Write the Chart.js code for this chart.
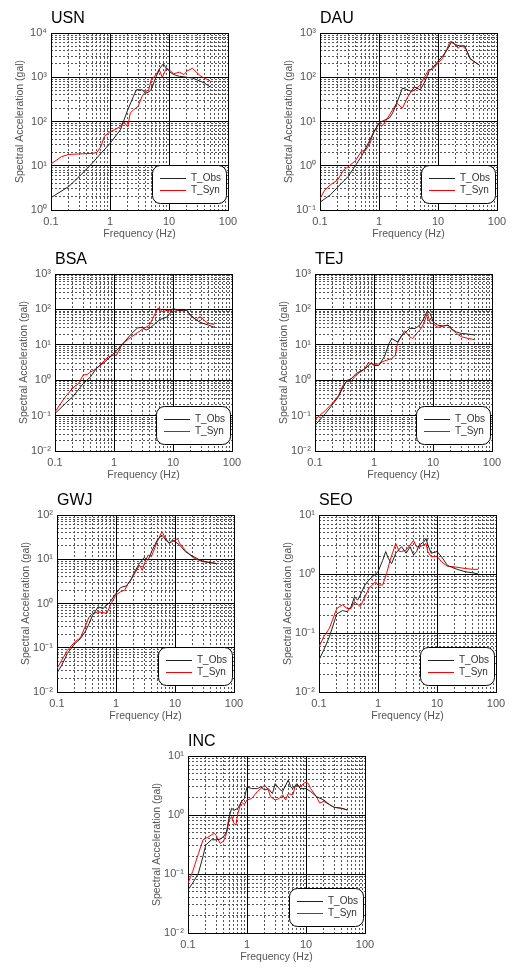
<!DOCTYPE html>
<html>
<head>
<meta charset="utf-8">
<script src="https://cdn.jsdelivr.net/npm/chart.js@4"></script>
<style>
body { margin: 0; background: #fff; }
canvas { position: absolute; }
</style>
</head>
<body>
<script>
// spectral acceleration (gal), frequency in Hz
const USN_OBS_F = [0.1,0.2,0.3,0.5,0.7,1,1.5,2,2.5,2.8,3.5,4,4.5,5,6,7,8,9,10,12,15,20,25,30,40,50];
const USN_OBS   = [1.9,3.4,5.7,11.4,19,32,65,183,370,520,520,440,460,530,1000,1600,2000,1600,1360,1150,1050,1000,960,870,740,600];
const USN_SYN_F = [0.1,0.15,0.2,0.3,0.5,0.6,0.7,0.8,1,1.2,1.5,1.7,2,2.2,2.5,3,3.5,4,4.5,5,6,6.8,7.7,9,10,12,15,18,20,25,30,35,40,50];
const USN_SYN   = [11,16,18,18.5,19,20,27,46,59,65,77,100,75,155,183,220,370,480,500,880,1140,1500,1000,1600,1480,1200,1300,1150,1370,1600,1250,1050,950,830];

const DAU_OBS_F = [0.1,0.15,0.2,0.3,0.5,0.7,0.8,1,1.2,1.5,1.7,2,2.5,3,3.5,4,5,6,7,8,10,12,15,17,20,25,28,30,35,40,50];
const DAU_OBS   = [0.15,0.22,0.33,0.57,1.6,3.8,5.5,9.2,10.5,12,15.5,26,57,52,48,60,52,80,135,160,230,300,460,640,540,500,520,430,260,230,190];
const DAU_SYN_F = [0.1,0.12,0.15,0.2,0.25,0.3,0.4,0.5,0.6,0.7,0.8,1,1.1,1.2,1.5,2,2.5,3,3.5,4,5,6,7,8,10,12,14,16,20,22,25,30,35,40,50];
const DAU_SYN   = [0.18,0.28,0.37,0.48,0.8,0.95,1.3,2.1,2.3,3.2,5.5,9,7.7,8.8,14,26,20,34,48,50,68,105,150,150,210,270,420,640,540,450,540,420,270,230,190];

const BSA_OBS_F = [0.1,0.15,0.2,0.3,0.4,0.5,0.7,1,1.5,2,2.5,3,3.5,4,5,6,7,8,9,10,12,15,17,20,25,30,40,50];
const BSA_OBS   = [0.114,0.22,0.34,0.8,1.24,2.14,3.3,5.7,12,21,30,31,26,29,40,52,56,62,80,107,95,95,93,69,50,42,36,31];
const BSA_SYN_F = [0.1,0.12,0.15,0.2,0.25,0.3,0.35,0.4,0.5,0.7,0.8,1,1.1,1.3,1.5,2,2.5,3,4,5,5.5,6,6.5,7,8,10,12,15,17,20,25,28,30,35,40,50];
const BSA_SYN   = [0.126,0.2,0.34,0.6,0.8,1.4,1.45,1.7,2.1,3.7,4.6,5.1,5.1,8.7,12,17,22,27,36,77,107,107,85,88,95,85,95,91,100,64,50,62,60,46,40,38];

const TEJ_OBS_F = [0.1,0.15,0.2,0.25,0.3,0.35,0.4,0.5,0.7,0.9,1,1.2,1.5,1.8,2,2.5,3,3.5,4,5,6,7,8,9,10,12,15,18,20,25,30,40,50];
const TEJ_OBS   = [0.053,0.114,0.21,0.34,0.65,1.0,1.05,1.55,2.1,3.0,2.6,2.6,4.6,11,15,12,19,23,29,29,36,56,91,77,45,36,34,36,29,23,21,20,19];
const TEJ_SYN_F = [0.1,0.15,0.2,0.25,0.3,0.35,0.4,0.5,0.7,0.8,1,1.2,1.5,2,2.3,2.5,3,3.3,4,4.5,5,6,7,8,9,10,12,15,18,20,25,30,40,50];
const TEJ_SYN   = [0.077,0.14,0.23,0.37,0.72,0.95,0.9,1.4,2.1,3.1,2.8,2.9,3.5,4.1,5.1,11,19,25,17,15,19,26,40,77,40,40,31,34,36,29,21,17,15,14];

const GWJ_OBS_F = [0.1,0.12,0.15,0.2,0.25,0.3,0.35,0.4,0.5,0.6,0.7,0.8,1,1.2,1.5,1.8,2,2.5,3,3.5,4,5,6,7,8,9,10,12,15,20,25,30,40,50];
const GWJ_OBS   = [0.027,0.04,0.074,0.124,0.16,0.23,0.35,0.54,0.84,0.77,0.92,1.1,1.7,2.3,2.5,3.4,4.8,8.1,11,9.5,14.8,27,35,27,23,27,25,21,14.8,11.7,10,9,8.4,8];
const GWJ_SYN_F = [0.1,0.12,0.15,0.2,0.25,0.3,0.35,0.4,0.5,0.6,0.7,0.8,1,1.2,1.4,1.6,2,2.5,2.8,3,3.5,4,5,6,7,8,9,10,11,12,15,20,25,30,40,50];
const GWJ_SYN   = [0.034,0.052,0.087,0.135,0.17,0.3,0.5,0.59,0.65,0.62,0.6,0.92,1.55,1.85,2.0,2.8,4.4,7.3,5.6,7.8,12.4,11.7,25,42,29,23,25,27,29,23,16,11,9.5,8.8,8.4,8];

const SEO_OBS_F = [0.1,0.12,0.15,0.2,0.25,0.3,0.35,0.4,0.45,0.5,0.6,0.7,0.8,1,1.2,1.35,1.5,1.7,2,2.5,3,3.5,4,4.5,5,6,6.5,7,8,10,12,15,20,30,40,50];
const SEO_OBS   = [0.035,0.051,0.086,0.21,0.24,0.23,0.28,0.41,0.36,0.44,0.65,0.79,0.89,1.09,1.7,2.4,1.83,1.5,2.25,2.9,2.25,2.9,2.1,2.4,3.1,3.5,4.0,3.1,2.25,2.4,1.95,1.4,1.24,1.09,1.05,1.0];
const SEO_SYN_F = [0.1,0.12,0.15,0.2,0.25,0.3,0.35,0.4,0.5,0.6,0.7,0.8,0.9,1,1.2,1.4,1.6,2,2.3,2.5,3,3.5,4,4.5,5,6,6.5,7,8,10,12,15,20,30,40,50];
const SEO_SYN   = [0.058,0.086,0.12,0.26,0.30,0.26,0.26,0.34,0.28,0.41,0.57,0.65,0.74,0.65,0.65,1.02,1.7,3.3,2.4,2.4,2.55,3.1,3.7,2.9,2.9,3.1,3.3,2.4,1.95,2.0,1.6,1.35,1.32,1.24,1.2,1.2];

const INC_OBS_F = [0.1,0.12,0.15,0.18,0.2,0.25,0.3,0.35,0.4,0.45,0.5,0.55,0.6,0.7,0.8,0.9,1,1.2,1.5,1.7,2,2.3,2.7,3,3.5,4,5,5.5,6,7,8,10,12,15,20,25,30,40,50];
const INC_OBS   = [0.054,0.07,0.103,0.2,0.31,0.38,0.38,0.39,0.43,0.52,0.94,1.3,1.2,1.3,1.67,1.9,3.0,2.8,2.8,3.0,2.65,2.8,2.3,3.4,2.8,2.5,3.9,3.0,2.8,3.4,2.8,2.8,2.5,2.05,1.8,1.5,1.35,1.3,1.22];
const INC_SYN_F = [0.1,0.12,0.15,0.18,0.2,0.25,0.28,0.3,0.35,0.4,0.45,0.5,0.55,0.6,0.65,0.7,0.8,0.9,1,1.2,1.5,2,2.3,2.5,3,3.5,4,4.5,5,6,6.5,7,8,9,10,11,12,15,17,20,25,30,40,50];
const INC_SYN   = [0.07,0.11,0.22,0.38,0.4,0.46,0.49,0.45,0.33,0.36,0.49,0.83,0.94,0.72,0.68,1.07,1.67,1.5,1.8,1.9,2.5,3.2,2.65,2.05,1.8,1.9,2.2,1.8,2.3,2.2,3.0,3.2,3.0,3.4,3.6,3.4,2.8,2.05,1.6,1.7,1.5,1.35,1.3,1.22];

const SERIES_LABELS = ['T_Obs', 'T_Syn'];
const X_TITLE = 'Frequency (Hz)';
const Y_TITLE = 'Spectral Acceleration (gal)';

// station, data, y range (decades), plot-area top-left on the page
const PANELS = [
  { name: 'USN', obsF: USN_OBS_F, obs: USN_OBS, synF: USN_SYN_F, syn: USN_SYN, ymin: 1,    ymax: 1e4, left: 51,  top: 33 },
  { name: 'DAU', obsF: DAU_OBS_F, obs: DAU_OBS, synF: DAU_SYN_F, syn: DAU_SYN, ymin: 0.1,  ymax: 1e3, left: 320, top: 33 },
  { name: 'BSA', obsF: BSA_OBS_F, obs: BSA_OBS, synF: BSA_SYN_F, syn: BSA_SYN, ymin: 0.01, ymax: 1e3, left: 55,  top: 274 },
  { name: 'TEJ', obsF: TEJ_OBS_F, obs: TEJ_OBS, synF: TEJ_SYN_F, syn: TEJ_SYN, ymin: 0.01, ymax: 1e3, left: 315, top: 274 },
  { name: 'GWJ', obsF: GWJ_OBS_F, obs: GWJ_OBS, synF: GWJ_SYN_F, syn: GWJ_SYN, ymin: 0.01, ymax: 100, left: 57,  top: 515 },
  { name: 'SEO', obsF: SEO_OBS_F, obs: SEO_OBS, synF: SEO_SYN_F, syn: SEO_SYN, ymin: 0.01, ymax: 10,  left: 319, top: 515 },
  { name: 'INC', obsF: INC_OBS_F, obs: INC_OBS, synF: INC_SYN_F, syn: INC_SYN, ymin: 0.01, ymax: 10,  left: 188, top: 756 }
];

const FONT = '"Liberation Sans", Arial, sans-serif';
const AXIS_W = 52, TOP_PAD = 33, X_AXIS_H = 32, RIGHT_PAD = 10, PLOT = 177;

const SUP = { '-': '\u207B', '0': '\u2070', '1': '\u00B9', '2': '\u00B2', '3': '\u00B3',
  '4': '\u2074', '5': '\u2075', '6': '\u2076', '7': '\u2077', '8': '\u2078', '9': '\u2079' };
function powLabel(v) {
  const e = String(Math.round(Math.log10(v)));
  return '10' + e.split('').map(c => SUP[c]).join('');
}

function decadeTicks(min, max) {
  const out = [];
  for (let e = Math.round(Math.log10(min)); e <= Math.round(Math.log10(max)); e++) out.push({ value: Math.pow(10, e) });
  return out;
}
function minorTicks(min, max) {
  const out = [];
  for (let e = Math.round(Math.log10(min)); e < Math.round(Math.log10(max)); e++) {
    for (let m = 2; m <= 9; m++) out.push({ value: m * Math.pow(10, e) });
  }
  return out;
}

// station name above the plot, left aligned with it
const stationTitle = {
  id: 'stationTitle',
  afterDraw(chart, args, opts) {
    const ctx = chart.ctx, a = chart.chartArea;
    ctx.save();
    ctx.font = '16px ' + FONT;
    ctx.fillStyle = '#000';
    ctx.textBaseline = 'alphabetic';
    ctx.fillText(opts.text, a.left, a.top - 10);
    ctx.restore();
  }
};

// rounded legend box in the lower right corner of the plot
const legendBox = {
  id: 'legendBox',
  afterDraw(chart) {
    const ctx = chart.ctx, a = chart.chartArea;
    const w = 74, h = 38;
    const x = a.right - 2 - w, y = a.bottom - 7 - h;
    ctx.save();
    ctx.beginPath();
    ctx.roundRect(x + 0.5, y + 0.5, w, h, 8);
    ctx.fillStyle = '#fff';
    ctx.fill();
    ctx.strokeStyle = '#000';
    ctx.lineWidth = 1;
    ctx.stroke();
    ctx.font = '10px ' + FONT;
    ctx.textBaseline = 'middle';
    chart.data.datasets.forEach((ds, i) => {
      const ly = Math.round(y + 13 + i * 12) + 0.5;
      ctx.beginPath();
      ctx.moveTo(x + 8, ly);
      ctx.lineTo(x + 34, ly);
      ctx.strokeStyle = ds.borderColor;
      ctx.stroke();
      ctx.fillStyle = '#333';
      ctx.fillText(ds.label, x + 39, ly);
    });
    ctx.restore();
  }
};

function pts(fs, vs) {
  return fs.map((f, i) => ({ x: f, y: vs[i] }));
}

function makeChart(p) {
  const cv = document.createElement('canvas');
  cv.width = AXIS_W + PLOT + RIGHT_PAD;
  cv.height = TOP_PAD + PLOT + X_AXIS_H;
  cv.style.left = (p.left - AXIS_W) + 'px';
  cv.style.top = (p.top - TOP_PAD) + 'px';
  document.body.appendChild(cv);

  const tickFont = { family: FONT, size: 11 };
  const titleFont = { family: FONT, size: 10.5 };
  new Chart(cv, {
    type: 'line',
    data: {
      datasets: [
        { label: SERIES_LABELS[0], data: pts(p.obsF, p.obs), borderColor: '#222', borderWidth: 1,
          pointRadius: 0, tension: 0, xAxisID: 'x', yAxisID: 'y' },
        { label: SERIES_LABELS[1], data: pts(p.synF, p.syn), borderColor: '#ff0000', borderWidth: 1,
          pointRadius: 0, tension: 0, xAxisID: 'x', yAxisID: 'y' }
      ]
    },
    options: {
      responsive: false,
      animation: false,
      layout: { padding: { top: TOP_PAD, right: RIGHT_PAD, left: 0, bottom: 0 } },
      plugins: {
        legend: { display: false },
        tooltip: { enabled: false },
        stationTitle: { text: p.name }
      },
      scales: {
        x: {
          type: 'logarithmic', position: 'bottom', min: 0.1, max: 100,
          afterBuildTicks: s => { s.ticks = decadeTicks(0.1, 100); },
          afterFit: s => { s.height = X_AXIS_H; s.paddingLeft = 0; s.paddingRight = 0; },
          grid: { color: '#000', lineWidth: 1, drawTicks: false },
          border: { color: '#000', width: 1 },
          ticks: { autoSkip: false, maxRotation: 0, padding: 5, color: '#555', font: tickFont,
            callback: v => String(v) },
          title: { display: true, text: X_TITLE, color: '#555', font: titleFont, padding: { top: 0, bottom: 2 } }
        },
        xm: {
          type: 'logarithmic', position: 'bottom', min: 0.1, max: 100,
          afterBuildTicks: s => { s.ticks = minorTicks(0.1, 100); },
          afterFit: s => { s.height = 0; s.paddingLeft = 0; s.paddingRight = 0; },
          grid: { color: '#555', lineWidth: 1, drawTicks: false, borderDash: [2, 2] },
          border: { display: false, dash: [2, 2] },
          ticks: { display: false }
        },
        y: {
          type: 'logarithmic', position: 'left', min: p.ymin, max: p.ymax,
          afterBuildTicks: s => { s.ticks = decadeTicks(p.ymin, p.ymax); },
          afterFit: s => { s.width = AXIS_W; s.paddingTop = 0; s.paddingBottom = 0; },
          grid: { color: '#000', lineWidth: 1, drawTicks: false },
          border: { color: '#000', width: 1 },
          ticks: { autoSkip: false, padding: 4, color: '#555', font: tickFont, callback: v => powLabel(v) },
          title: { display: true, text: Y_TITLE, color: '#555', font: titleFont, padding: { top: 15, bottom: 0 } }
        },
        ym: {
          type: 'logarithmic', position: 'left', min: p.ymin, max: p.ymax,
          afterBuildTicks: s => { s.ticks = minorTicks(p.ymin, p.ymax); },
          afterFit: s => { s.width = 0; s.paddingTop = 0; s.paddingBottom = 0; },
          grid: { color: '#555', lineWidth: 1, drawTicks: false, borderDash: [2, 2] },
          border: { display: false, dash: [2, 2] },
          ticks: { display: false }
        }
      }
    },
    plugins: [stationTitle, legendBox]
  });
}

PANELS.forEach(makeChart);
</script>
</body>
</html>
